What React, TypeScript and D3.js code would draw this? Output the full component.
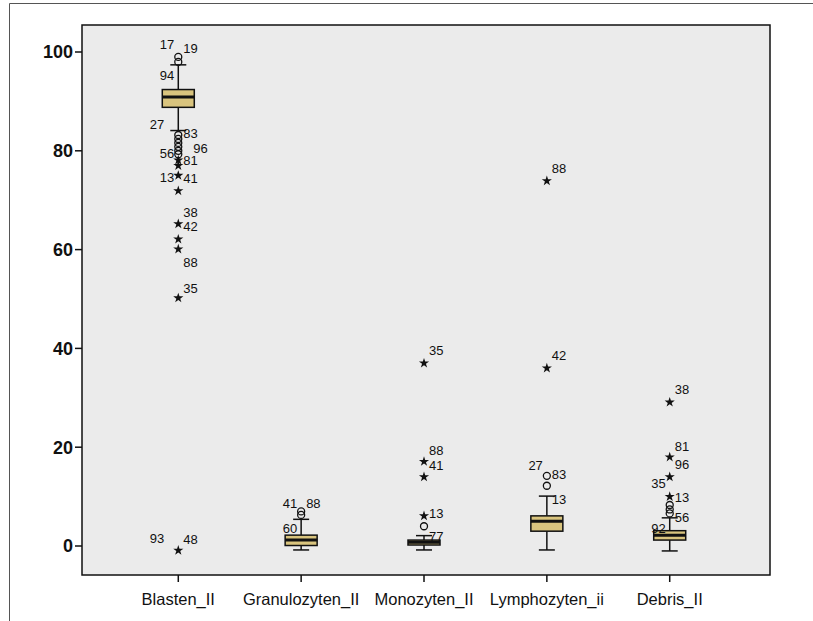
import React from "react";
import * as d3 from "d3";

const categories = ["Blasten_II", "Granulozyten_II", "Monozyten_II", "Lymphozyten_ii", "Debris_II"];
const boxQ1 = [88.8, 0.1, 0.2, 3.0, 1.2];
const boxMedian = [90.9, 1.2, 0.75, 5.0, 2.2];
const boxQ3 = [92.4, 2.2, 1.2, 6.1, 3.1];
const whiskerLow = [84.1, -0.8, -0.8, -0.8, -1.0];
const whiskerHigh = [97.4, 5.4, 2.1, 10.1, 5.7];

// mild outliers (circles) per category
const circleOutliers = [
  [99.0, 98.0, 83.2, 82.4, 81.6, 80.8, 80.0, 79.3],
  [6.3, 7.0],
  [4.0],
  [12.2, 14.2],
  [6.6, 7.4, 8.3],
];
// extreme outliers (stars) per category
const starOutliers = [
  [78.1, 77.0, 75.0, 71.9, 65.2, 62.1, 60.1, 50.2, -0.9],
  [],
  [6.1, 14.0, 17.1, 37.0],
  [36.0, 73.9],
  [10.0, 14.0, 18.0, 29.1],
];

// case labels: [category index, text, value at label, side, far]
const caseLabels: [number, string, number, string, number][] = [
  [0, "17", 101.6, "l", 0], [0, "19", 100.8, "r", 0], [0, "94", 95.3, "l", 0],
  [0, "27", 85.4, "l", 1], [0, "83", 83.6, "r", 0], [0, "56", 79.4, "l", 0],
  [0, "96", 80.4, "r", 1], [0, "81", 78.0, "r", 0], [0, "13", 74.7, "l", 0],
  [0, "41", 74.5, "r", 0], [0, "38", 67.6, "r", 0], [0, "42", 64.6, "r", 0],
  [0, "88", 57.5, "r", 0], [0, "35", 52.2, "r", 0], [0, "93", 1.6, "l", 1],
  [0, "48", 1.4, "r", 0],
  [1, "41", 8.7, "l", 0], [1, "88", 8.7, "r", 0], [1, "60", 3.6, "l", 0],
  [2, "35", 39.5, "r", 0], [2, "88", 19.4, "r", 0], [2, "41", 16.4, "r", 0],
  [2, "13", 6.5, "r", 0], [2, "77", 2.0, "r", 0],
  [3, "88", 76.5, "r", 0], [3, "42", 38.5, "r", 0], [3, "27", 16.4, "l", 0],
  [3, "83", 14.4, "r", 0], [3, "13", 9.5, "r", 0],
  [4, "38", 31.6, "r", 0], [4, "81", 20.2, "r", 0], [4, "96", 16.6, "r", 0],
  [4, "35", 12.6, "l", 0], [4, "13", 9.9, "r", 0], [4, "56", 5.7, "r", 0],
  [4, "92", 3.6, "l", 0],
];

const yTicks = [0, 20, 40, 60, 80, 100];

const W = 813, H = 621;
const plotL = 82, plotR = 770, plotT = 25, plotB = 575;

export default function App() {
  const x = d3.scalePoint<string>().domain(categories).range([plotL - 2, plotR - 2]).padding(0.8);
  const y = d3.scaleLinear().domain([0, 100]).range([546, 52]);
  const boxW = 32, capW = 16;
  const star = d3.symbol().type(d3.symbolStar).size(32)() as string;
  const font = "'Liberation Sans', Arial, sans-serif";

  return (
    <svg width={W} height={H} style={{ position: "absolute", left: 0, top: 0 }} fontFamily={font}>
      <rect x={0} y={0} width={W} height={H} fill="#ffffff" />
      <path d={`M9.5,${H} V3.5 H${W}`} fill="none" stroke="#555" strokeWidth={1} />
      <rect x={plotL} y={plotT} width={plotR - plotL} height={plotB - plotT} fill="#ebebeb" stroke="#111" strokeWidth={1.5} />
      {yTicks.map((t) => (
        <g key={t}>
          <line x1={plotL - 7} x2={plotL} y1={y(t)} y2={y(t)} stroke="#111" strokeWidth={1.5} />
          <text x={plotL - 9} y={y(t)} dy="0.35em" textAnchor="end" fontSize={18} fontWeight="bold" fill="#111">{t}</text>
        </g>
      ))}
      {categories.map((c) => (
        <g key={c}>
          <line x1={x(c)} x2={x(c)} y1={plotB} y2={plotB + 7} stroke="#111" strokeWidth={1.5} />
          <text x={x(c)} y={plotB + 30} textAnchor="middle" fontSize={16.5} fill="#111">{c}</text>
        </g>
      ))}
      {categories.map((c, i) => {
        const cx = x(c) as number;
        return (
          <g key={"b" + c}>
            <line x1={cx} x2={cx} y1={y(whiskerHigh[i])} y2={y(boxQ3[i])} stroke="#111" strokeWidth={1.5} />
            <line x1={cx} x2={cx} y1={y(boxQ1[i])} y2={y(whiskerLow[i])} stroke="#111" strokeWidth={1.5} />
            <line x1={cx - capW / 2} x2={cx + capW / 2} y1={y(whiskerHigh[i])} y2={y(whiskerHigh[i])} stroke="#111" strokeWidth={1.5} />
            <line x1={cx - capW / 2} x2={cx + capW / 2} y1={y(whiskerLow[i])} y2={y(whiskerLow[i])} stroke="#111" strokeWidth={1.5} />
            <rect x={cx - boxW / 2} y={y(boxQ3[i])} width={boxW} height={y(boxQ1[i]) - y(boxQ3[i])} fill="#d9c47e" stroke="#111" strokeWidth={1.5} />
            <line x1={cx - boxW / 2} x2={cx + boxW / 2} y1={y(boxMedian[i])} y2={y(boxMedian[i])} stroke="#111" strokeWidth={3} />
            {circleOutliers[i].map((v, k) => (
              <circle key={"c" + k} cx={cx} cy={y(v)} r={3.5} fill="none" stroke="#111" strokeWidth={1.3} />
            ))}
            {starOutliers[i].map((v, k) => (
              <path key={"s" + k} d={star} transform={`translate(${cx},${y(v)})`} fill="#111" />
            ))}
          </g>
        );
      })}
      {caseLabels.map(([ci, txt, v, side, far], k) => {
        const cx = x(categories[ci]) as number;
        const off = far ? 14 : 4;
        return (
          <text key={"l" + k} x={side === "l" ? cx - off : cx + off + 1} y={y(v)} dy="0.35em"
            textAnchor={side === "l" ? "end" : "start"} fontSize={13} fill="#111">{txt}</text>
        );
      })}
    </svg>
  );
}
